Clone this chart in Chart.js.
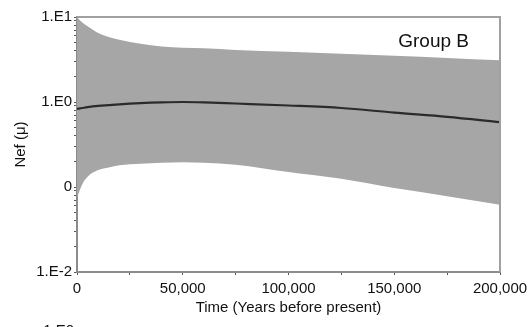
<!DOCTYPE html>
<html>
<head>
<meta charset="utf-8">
<script src="https://cdn.jsdelivr.net/npm/chart.js@4.4.1/dist/chart.umd.min.js"></script>
<style>
  html, body { margin: 0; padding: 0; background: #fff; }
  #wrap { width: 528px; height: 327px; position: relative; }
</style>
</head>
<body>
<div id="wrap"><canvas id="nefChart" width="528" height="327"></canvas></div>
<script>
// Years before present
const timeYears = [0, 2500, 5000, 10000, 15000, 20000, 30000, 40000, 50000, 60000, 75000, 100000, 125000, 150000, 175000, 200000];
// Nef (mu): median and upper / lower bound of the shaded band
const medianVals = [0.83, 0.85, 0.87, 0.90, 0.92, 0.94, 0.97, 0.99, 1.00, 0.99, 0.96, 0.91, 0.85, 0.75, 0.67, 0.58];
const upperVals = [10, 8.6, 7.8, 6.5, 5.8, 5.4, 4.85, 4.5, 4.35, 4.3, 4.1, 3.9, 3.7, 3.5, 3.3, 3.1];
const lowerVals = [0.075, 0.108, 0.132, 0.158, 0.170, 0.180, 0.188, 0.193, 0.196, 0.193, 0.183, 0.150, 0.125, 0.097, 0.078, 0.062];

// Axis ticks
const xTickValues = [0, 50000, 100000, 150000, 200000];
const xTickLabels = ['0', '50,000', '100,000', '150,000', '200,000'];
const yTickValues = [0.01, 0.1, 1, 10];
const yTickLabels = ['1.E-2', '0', '1.E0', '1.E1'];

const groupLabel = 'Group B';
const xTitle = 'Time (Years before present)';
const yTitle = 'Nef (\u03bc)';

const FONT = '"Liberation Sans", Arial, sans-serif';
const AXIS_GRAY = '#8c8c8c';

function pts(vals) {
    return timeYears.map((t, i) => ({ x: t, y: vals[i] }));
}

// minor ticks for the log axis (2..9 in each decade)
function logTicks() {
    const out = [];
    for (let d = 0; d < yTickValues.length; d++) {
        const base = yTickValues[d];
        out.push({ value: base });
        if (d < yTickValues.length - 1) {
            for (let m = 2; m <= 9; m++) out.push({ value: base * m });
        }
    }
    return out;
}

// frame round the plot + group label + clipped label of the next panel
const framePlugin = {
    id: 'frame',
    afterDraw(chart) {
        const { ctx, chartArea } = chart;
        ctx.save();
        ctx.strokeStyle = '#a0a0a0';
        ctx.lineWidth = 2;
        ctx.beginPath();
        ctx.moveTo(chartArea.left, chartArea.top);
        ctx.lineTo(chartArea.right, chartArea.top);
        ctx.lineTo(chartArea.right, chartArea.bottom);
        ctx.stroke();

        ctx.fillStyle = '#111';
        ctx.font = '19px ' + FONT;
        ctx.textAlign = 'right';
        ctx.textBaseline = 'alphabetic';
        ctx.fillText(groupLabel, chartArea.right - 31, 47);

        ctx.font = '15px ' + FONT;
        ctx.textAlign = 'right';
        ctx.textBaseline = 'top';
        ctx.fillText('1.E0', 74, 323);
        ctx.restore();
    }
};

const ctx = document.getElementById('nefChart');
new Chart(ctx, {
    type: 'line',
    data: {
        datasets: [
            {
                label: 'median',
                data: pts(medianVals),
                borderColor: '#2b2b2b',
                borderWidth: 2.2,
                pointRadius: 0,
                fill: false,
                cubicInterpolationMode: 'monotone'
            },
            {
                label: 'upper',
                data: pts(upperVals),
                borderColor: '#a6a6a6',
                borderWidth: 0,
                backgroundColor: '#a6a6a6',
                pointRadius: 0,
                fill: '+1',
                cubicInterpolationMode: 'monotone'
            },
            {
                label: 'lower',
                data: pts(lowerVals),
                borderColor: '#a6a6a6',
                borderWidth: 0,
                pointRadius: 0,
                fill: false,
                cubicInterpolationMode: 'monotone'
            }
        ]
    },
    options: {
        responsive: false,
        animation: false,
        layout: { padding: { left: 0, right: 28, top: 17, bottom: 0 } },
        plugins: {
            legend: { display: false },
            tooltip: { enabled: false }
        },
        scales: {
            x: {
                type: 'linear',
                min: 0,
                max: 200000,
                afterBuildTicks: (scale) => {
                    const t = [];
                    for (let v = 0; v <= 200000; v += 25000) t.push({ value: v });
                    scale.ticks = t;
                },
                afterFit: (scale) => {
                    scale.height = 55;
                    scale.paddingLeft = 0;
                    scale.paddingRight = 0;
                },
                border: { display: true, color: AXIS_GRAY, width: 2 },
                grid: { drawOnChartArea: false, drawTicks: true, tickLength: 3, color: '#555' },
                ticks: {
                    autoSkip: false,
                    maxRotation: 0,
                    padding: 5,
                    color: '#111',
                    font: { family: FONT, size: 15 },
                    callback: (v) => {
                        const i = xTickValues.indexOf(v);
                        return i >= 0 ? xTickLabels[i] : '';
                    }
                },
                title: {
                    display: true,
                    text: xTitle,
                    color: '#111',
                    font: { family: FONT, size: 15 },
                    padding: { top: 0, bottom: 10 }
                }
            },
            y: {
                type: 'logarithmic',
                min: 0.01,
                max: 10,
                afterBuildTicks: (scale) => { scale.ticks = logTicks(); },
                afterFit: (scale) => {
                    scale.width = 77;
                    scale.paddingTop = 0;
                    scale.paddingBottom = 0;
                },
                border: { display: true, color: AXIS_GRAY, width: 2 },
                grid: { drawOnChartArea: false, drawTicks: true, tickLength: 3, color: '#555' },
                ticks: {
                    autoSkip: false,
                    padding: 2,
                    color: '#111',
                    font: { family: FONT, size: 15 },
                    callback: (v) => {
                        const i = yTickValues.findIndex(t => Math.abs(t - v) < v * 1e-6);
                        return i >= 0 ? yTickLabels[i] : '';
                    }
                },
                title: {
                    display: true,
                    text: yTitle,
                    color: '#111',
                    font: { family: FONT, size: 15 },
                    padding: { top: 12, bottom: 0 }
                }
            }
        }
    },
    plugins: [framePlugin]
});
</script>
</body>
</html>
